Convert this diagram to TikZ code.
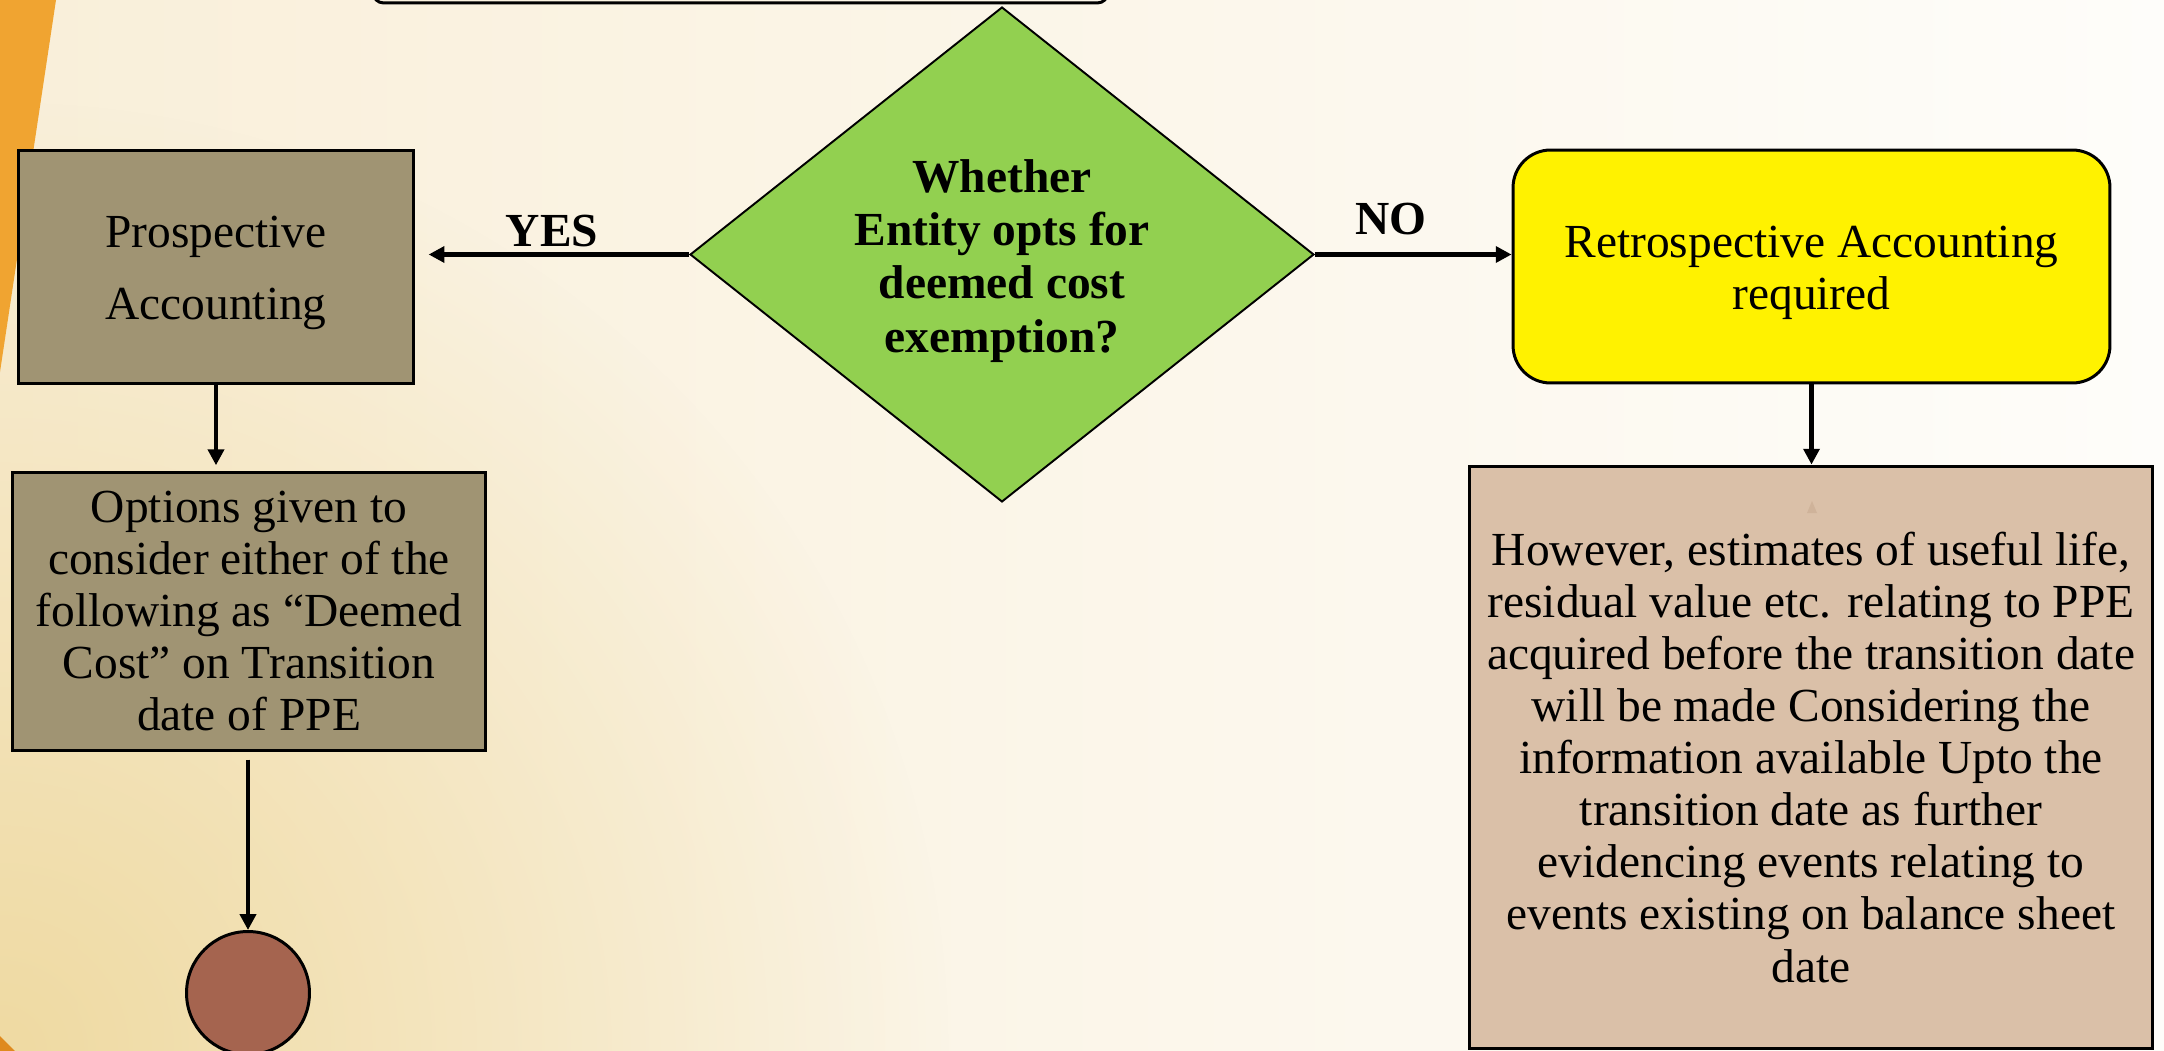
\documentclass[tikz,border=0pt]{standalone}
\usepackage{fontspec}
\setmainfont{Liberation Serif}
\usetikzlibrary{shapes.geometric,arrows.meta,fadings}

\definecolor{bgLeft}{HTML}{F9EFD9}
\definecolor{bgRight}{HTML}{FEFDFA}
\definecolor{bgWarm}{HTML}{EFDAA2}
\definecolor{stripe}{HTML}{F0A431}
\definecolor{stripeDark}{HTML}{DF8A1E}
\definecolor{khaki}{HTML}{A09473}
\definecolor{tan}{HTML}{DAC0A8}
\definecolor{lime}{HTML}{92D050}
\definecolor{brick}{HTML}{A5644F}
\definecolor{faint}{HTML}{CFB39A}

\tikzfading[name=warmglow, inner color=transparent!0, outer color=transparent!100]

\tikzset{
  body/.style={font=\fontsize{27}{29.6}\selectfont, align=center, inner sep=0pt},
  box/.style={body, draw=black, line width=1.7pt},
  decision/.style={diamond, draw=black, line width=1.1pt, fill=lime, inner sep=0pt},
  bold/.style={font=\bfseries\fontsize{27}{30.2}\selectfont, align=center, inner sep=0pt},
  lbl/.style={font=\bfseries\fontsize{27}{30}\selectfont, inner sep=0pt, anchor=base},
  arr/.style={draw=black, line width=2.4pt, -{Triangle[length=9pt,width=9pt]}}
}

\begin{document}
\begin{tikzpicture}[x=0.02cm, y=-0.02cm]
  \useasboundingbox (0,0) rectangle (2164,1051);

  % warm paper background
  \shade[left color=bgLeft, right color=bgRight] (0,0) rectangle (2164,1051);
  \begin{scope}
    \clip (0,0) rectangle (2164,1051);
    \fill[bgWarm, path fading=warmglow] (0,1051) circle (950);
  \end{scope}
  % orange edge accents
  \fill[stripe] (0,0) -- (56,0) -- (0,372) -- cycle;
  \fill[stripeDark] (0,1036) -- (15,1051) -- (0,1051) -- cycle;

  % box above the decision (only its lower edge shows)
  \node[box, rounded corners=6pt, minimum width=14.7cm, minimum height=2.2cm]
    (top) at (740.5,-52) {};

  % decision
  \node[decision, minimum width=12.48cm, minimum height=9.9cm] (dec) at (1002,254.5) {};
  \node[bold] (dectext) at (1002,261)
    {Whether\\Entity opts for\\deemed cost\\exemption?};

  % left branch
  \node[box, fill=khaki, minimum width=7.92cm, minimum height=4.68cm] (prosp) at (216,267) {};
  \node[body, font=\fontsize{27}{41}\selectfont] (prosptext) at (216,273)
    {Prospective\\Accounting};
  \node[box, fill=khaki, minimum width=9.48cm, minimum height=5.58cm] (opts) at (249,611.5)
    {Options given to\\consider either of the\\following as “Deemed\\Cost” on Transition\\date of PPE};
  \node[circle, draw=black, line width=1.7pt, fill=brick, minimum size=2.46cm, inner sep=0pt]
    (end) at (248,993) {};

  % right branch
  \node[box, fill=yellow, rounded corners=0.75cm, minimum width=11.94cm, minimum height=4.66cm]
    (retro) at (1811.5,266.5) {};
  \node[body] (retrotext) at (1811.5,273) {Retrospective Accounting\\required};
  \node[box, fill=tan, minimum width=13.68cm, minimum height=11.66cm] (est) at (1811,757.5)
    {However, estimates of useful life,\\residual value etc. relating to PPE\\acquired before the transition date\\will be made Considering the\\information available Upto the\\transition date as further\\evidencing events relating to\\events existing on balance sheet\\date};
  \fill[faint] (1812,501) -- (1817,513) -- (1807,513) -- cycle;

  % connectors
  \draw[arr, shorten >=7.5pt] (dec.west) -- (dec.west -| prosp.east);
  \draw[arr] (dec.east) -- (dec.east -| retro.west);
  \draw[arr, shorten >=3pt] (prosp.south) -- (prosp.south |- opts.north);
  \draw[arr, shorten <=4pt] (opts.south -| end.north) -- (end.north);
  \draw[arr] (retro.south) -- (retro.south |- est.north);

  % branch labels
  \node[lbl] (yes) at (552,246) {YES};
  \node[lbl] (no) at (1391,234) {NO};
\end{tikzpicture}
\end{document}
